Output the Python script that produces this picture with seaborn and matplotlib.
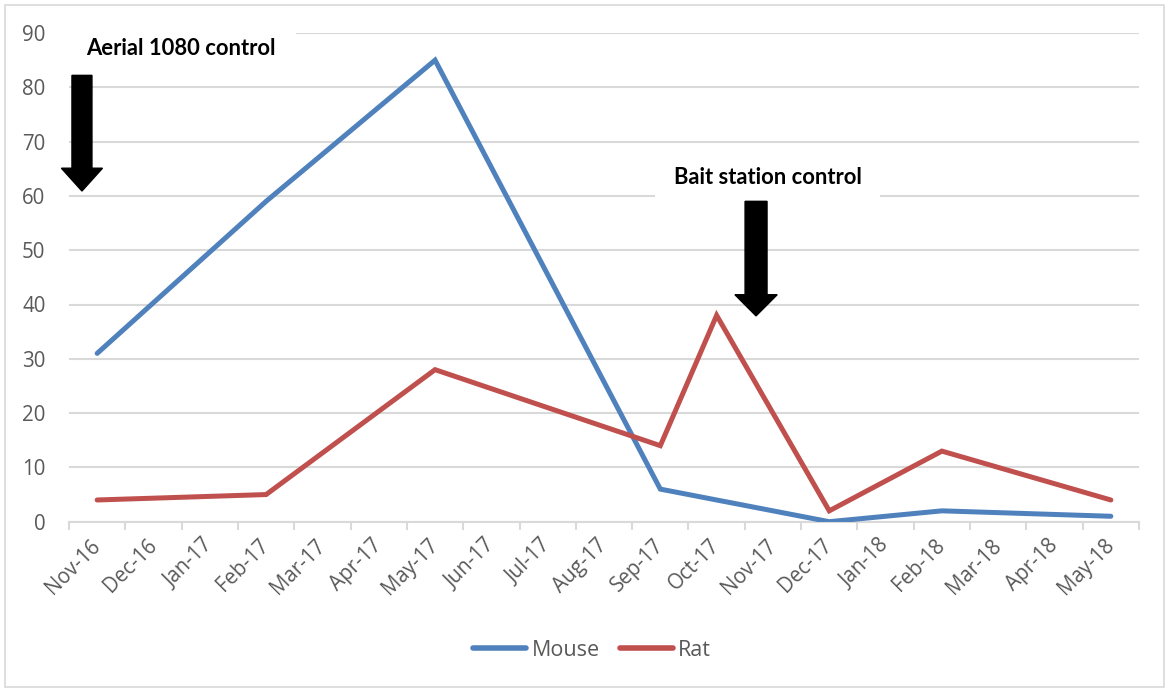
import matplotlib
matplotlib.use("Agg")
import matplotlib.pyplot as plt
from matplotlib.patches import FancyArrow, Rectangle
from matplotlib.lines import Line2D
import seaborn as sns
import pandas as pd

# Monthly survey periods
months = ['Nov-16', 'Dec-16', 'Jan-17', 'Feb-17', 'Mar-17', 'Apr-17', 'May-17',
          'Jun-17', 'Jul-17', 'Aug-17', 'Sep-17', 'Oct-17', 'Nov-17', 'Dec-17',
          'Jan-18', 'Feb-18', 'Mar-18', 'Apr-18', 'May-18']

# Tracking index by species (only surveyed months)
mouse_months = ['Nov-16', 'Feb-17', 'May-17', 'Sep-17', 'Dec-17', 'Feb-18', 'May-18']
mouse_counts = [31, 59, 85, 6, 0, 2, 1]
rat_months = ['Nov-16', 'Feb-17', 'May-17', 'Sep-17', 'Oct-17', 'Dec-17', 'Feb-18', 'May-18']
rat_counts = [4, 5, 28, 14, 38, 2, 13, 4]

y_ticks = [0, 10, 20, 30, 40, 50, 60, 70, 80, 90]

series = ['Mouse', 'Rat']
colors = {'Mouse': '#4F81BD', 'Rat': '#C0504D'}

df = pd.concat([
    pd.DataFrame({'month': mouse_months, 'value': mouse_counts, 'species': 'Mouse'}),
    pd.DataFrame({'month': rat_months, 'value': rat_counts, 'species': 'Rat'}),
], ignore_index=True)
df['pos'] = df['month'].map({m: i for i, m in enumerate(months)})

sns.set_theme(style="white")
plt.rcParams['font.family'] = ['Open Sans', 'DejaVu Sans']

fig = plt.figure(figsize=(11.68, 6.88), dpi=100)
ax = fig.add_axes([69 / 1168, 1 - 521.7 / 688, (1139 - 69) / 1168, (521.7 - 33) / 688])

sns.lineplot(data=df, x='pos', y='value', hue='species', palette=colors,
             hue_order=series, linewidth=3.6, sort=False, legend=False, ax=ax,
             solid_capstyle='round', solid_joinstyle='miter', zorder=3)

grid_c = '#D9D9D9'
text_c = '#595959'

ax.set_xlim(-0.5, len(months) - 0.5)
ax.set_ylim(0, 90)
ax.set_yticks(y_ticks)
ax.set_yticklabels([str(v) for v in y_ticks])
ax.yaxis.grid(True, color=grid_c, linewidth=1.5, zorder=0)
ax.xaxis.grid(False)
ax.set_axisbelow(True)

ax.set_xticks(range(len(months)))
ax.set_xticklabels(months, rotation=45, ha='right', va='center', rotation_mode='anchor')
ax.set_xticks([i - 0.5 for i in range(len(months) + 1)], minor=True)
ax.tick_params(axis='x', which='major', length=0, pad=15, labelsize=14.8, labelcolor=text_c)
ax.tick_params(axis='x', which='minor', length=5.5, width=1.5, color=grid_c, bottom=True)
ax.tick_params(axis='y', length=0, pad=17, labelsize=14.8, labelcolor=text_c)

for s in ['top', 'right', 'left']:
    ax.spines[s].set_visible(False)
ax.spines['bottom'].set_color(grid_c)
ax.spines['bottom'].set_linewidth(1.5)
ax.set_xlabel('')
ax.set_ylabel('')

# Control operation annotations
bold = dict(family=['Lato', 'DejaVu Sans'], fontweight='bold', fontsize=15.8, color='black')
ax.text(1.49, 87.2, 'Aerial 1080 control', ha='center', va='center', zorder=5,
        bbox=dict(boxstyle='square,pad=0.9', facecolor='white', edgecolor='none'), **bold)
ax.text(11.91, 63.4, 'Bait station control', ha='center', va='center', zorder=5,
        bbox=dict(boxstyle='square,pad=0.85', facecolor='white', edgecolor='none'), **bold)

ax.add_patch(FancyArrow(-0.27, 82.2, 0, -(82.2 - 60.9), width=0.355, head_width=0.73,
                        head_length=4.2, length_includes_head=True, color='black',
                        zorder=6, clip_on=False))
ax.add_patch(FancyArrow(11.7, 59.0, 0, -(59.0 - 37.9), width=0.39, head_width=0.75,
                        head_length=3.9, length_includes_head=True, color='black',
                        zorder=6, clip_on=False))

handles = [Line2D([], [], color=colors[s], linewidth=4, solid_capstyle='round') for s in series]
leg = ax.legend(handles, series, loc='center', bbox_to_anchor=(0.489, -0.263), ncol=2,
                frameon=False, fontsize=15.5, handlelength=2.45, handletextpad=0.25,
                columnspacing=0.95)
for t in leg.get_texts():
    t.set_color(text_c)

fig.patches.append(Rectangle((4.5 / 1168, 1.5 / 688), 1159 / 1168, 682 / 688,
                             transform=fig.transFigure, fill=False, edgecolor=grid_c,
                             linewidth=1.2))

fig.savefig('out.png', dpi=100, facecolor='white')
